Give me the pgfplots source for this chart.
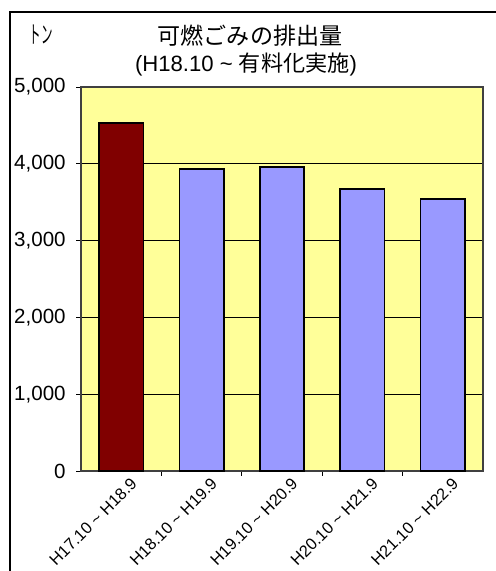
\documentclass[border=0pt]{standalone}
\usepackage{pgfplots}
\pgfplotsset{compat=1.18}
\usepackage{fontspec}
\setmainfont{Liberation Sans}
\newfontfamily\cjk{Noto Sans CJK JP}
\definecolor{bgy}{HTML}{FFFF99}
\definecolor{darkred}{HTML}{800000}
\definecolor{lav}{HTML}{9999FF}
\begin{document}
\begin{tikzpicture}[x=0.75pt,y=0.75pt]
\useasboundingbox (0,0) rectangle (496,-571);
\draw[line width=1.1pt] (10,-571) -- (10,-12) -- (496,-12);
\node[font=\cjk\fontsize{18pt}{20pt}\selectfont] at (41,-35) {\scalebox{0.48}[1]{トン}};
\node[font=\cjk\fontsize{17.3pt}{20pt}\selectfont] at (250,-36) {可燃ごみの排出量};
\node[font=\fontsize{16.6pt}{19pt}\selectfont] at (246,-64) {(H18.10 \textasciitilde{} {\cjk 有料化実施})};
\begin{axis}[
  at={(60.75pt,-353.25pt)}, anchor=south west,
  scale only axis, width=301.5pt, height=288pt,
  xmin=-0.5, xmax=4.5, ymin=0, ymax=5000,
  axis background/.style={fill=bgy},
  axis line style={black!75, line width=0.9pt},
  ytick={0,1000,2000,3000,4000,5000},
  ymajorgrids, grid style={black, line width=0.6pt},
  y tick label style={font=\fontsize{15.4pt}{18pt}\selectfont, xshift=-4.5pt, /pgf/number format/1000 sep={,}, /pgf/number format/assume math mode=true},
  xtick={0,1,2,3,4},
  xticklabels={H17.10 \textasciitilde{} H18.9, H18.10 \textasciitilde{} H19.9, H19.10 \textasciitilde{} H20.9, H20.10 \textasciitilde{} H21.9, H21.10 \textasciitilde{} H22.9},
  x tick label style={rotate=45, anchor=north east, font=\fontsize{12.3pt}{14pt}\selectfont, inner sep=1pt, xshift=5pt, yshift=-4pt},
  major x tick style={draw=none},
  minor xtick={0.5,1.5,2.5,3.5},
  minor tick length=3.5pt,
  minor x tick style={black, line width=0.6pt},
  ytick align=outside, ytick pos=left, xtick pos=bottom,
  major tick length=3.5pt,
  major y tick style={black, line width=0.6pt},
  ybar, bar width=0.55, bar shift=0pt,
  clip=false,
]
\addplot[fill=darkred, draw=black, line width=1.2pt] coordinates {(0,4530)};
\addplot[fill=lav, draw=black, line width=1.2pt] coordinates {(1,3930) (2,3957) (3,3675) (4,3541)};
\end{axis}
\end{tikzpicture}
\end{document}
